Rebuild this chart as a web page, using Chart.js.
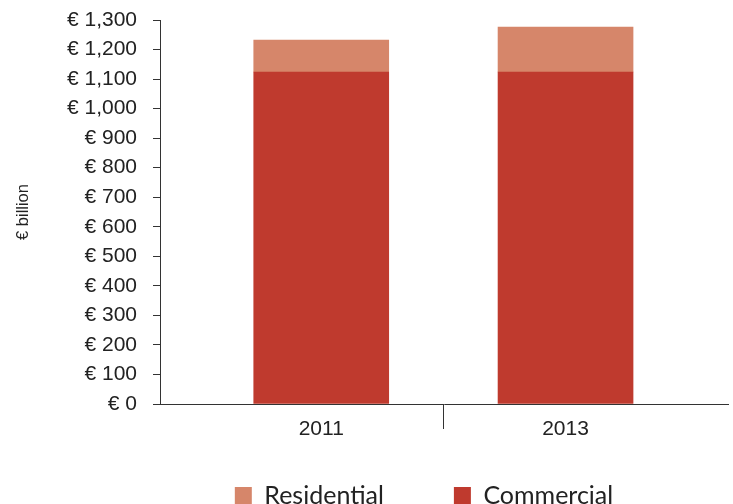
<!DOCTYPE html>
<html>
<head>
<meta charset="utf-8">
<script src="https://cdn.jsdelivr.net/npm/chart.js@4.4.1/dist/chart.umd.min.js"></script>
<style>
  html, body { margin: 0; padding: 0; background: #fff; overflow: hidden; }
  #wrap { width: 733px; height: 554px; }
</style>
</head>
<body>
<div id="wrap"><canvas id="myChart"></canvas></div>
<script>
// Real estate stock, € billion
const years = [2011, 2013];
const commercial = [1124, 1124];
const residential = [108, 152];
const yTicks = [0, 100, 200, 300, 400, 500, 600, 700, 800, 900, 1000, 1100, 1200, 1300];

const tickFont = { family: 'Liberation Sans, Arial, sans-serif', size: 21 };
const axisColor = '#333';

// pull the legend up under the year labels (its padding only sets the gap between items)
const legendShift = {
    id: 'legendShift',
    afterLayout(chart) {
        const lg = chart.legend;
        const dy = 413 - lg.top;
        const dx = 60;
        lg.top += dy; lg.bottom += dy;
        lg.left += dx; lg.right += dx;
    }
};

const ctx = document.getElementById('myChart');

new Chart(ctx, {
    type: 'bar',
    data: {
        labels: years,
        datasets: [{
            label: 'Commercial',
            data: commercial,
            backgroundColor: '#BF3A2E',
            barThickness: 135
        },
        {
            label: 'Residential',
            data: residential,
            backgroundColor: '#D6866A',
            barThickness: 135
        }]
    },
    options: {
        responsive: true,
        maintainAspectRatio: false,
        animation: false,
        layout: {
            padding: { top: 20, right: 5, left: 0, bottom: 0 }
        },
        scales: {
            x: {
                type: 'linear',
                offset: false,
                stacked: true,
                min: 2009.68,
                max: 2014.33,
                border: { color: axisColor, width: 1 },
                grid: {
                    offset: false,
                    drawOnChartArea: false,
                    tickLength: 25,
                    // only the divider between the two years
                    color: c => (c.tick && c.tick.value === 2012) ? axisColor : 'rgba(0,0,0,0)'
                },
                afterBuildTicks: scale => {
                    scale.ticks = [{ value: 2011 }, { value: 2012 }, { value: 2013 }];
                },
                ticks: {
                    color: '#222',
                    font: tickFont,
                    padding: -12,
                    callback: v => years.includes(v) ? String(v) : ''
                },
                afterFit: scale => { scale.height = 45; }
            },
            y: {
                stacked: true,
                min: 0,
                max: 1300,
                border: { color: axisColor, width: 1 },
                grid: {
                    drawOnChartArea: false,
                    tickLength: 7,
                    color: axisColor
                },
                afterBuildTicks: scale => {
                    scale.ticks = yTicks.map(v => ({ value: v }));
                },
                ticks: {
                    color: '#222',
                    font: tickFont,
                    padding: 16,
                    callback: v => '€ ' + v.toLocaleString('en-US')
                },
                title: {
                    display: true,
                    text: '€ billion',
                    color: '#222',
                    font: { family: 'Liberation Sans, Arial, sans-serif', size: 16.5 },
                    padding: { top: 14, bottom: 0 }
                },
                afterFit: scale => {
                    scale.width = 160;
                    scale.paddingTop = 0;
                    scale.paddingBottom = 0;
                }
            }
        },
        plugins: {
            legend: {
                position: 'bottom',
                reverse: true,
                labels: {
                    boxWidth: 17,
                    boxHeight: 17,
                    padding: 70,
                    color: '#222',
                    font: { family: 'Lato, sans-serif', size: 25 }
                }
            },
            tooltip: { enabled: false }
        }
    },
    plugins: [legendShift]
});
</script>
</body>
</html>
